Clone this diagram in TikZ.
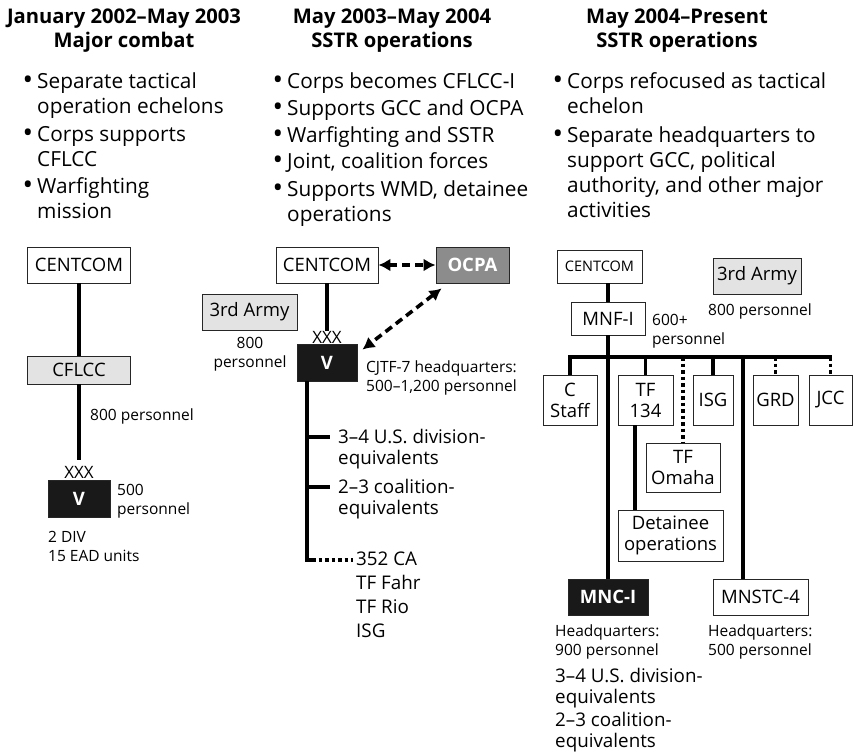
\documentclass[tikz,border=0pt]{standalone}
\usepackage{fontspec}
\usepackage{graphicx}
\setmainfont{Open Sans}
\usetikzlibrary{arrows.meta}

\newcommand\hdsize{\fontsize{20.2}{24}\selectfont\bfseries}
\newcommand\blsize{\fontsize{20.8}{25}\selectfont}
\newcommand\bxsize{\fontsize{18.5}{21}\selectfont}
\newcommand\unsize{\fontsize{18.8}{21}\selectfont}
\newcommand\smsize{\fontsize{15.5}{19}\selectfont}
\newcommand\dotmark{\llap{\raisebox{-1.8pt}{\scalebox{1.35}{•}}\hspace{4pt}}}

\begin{document}
\begin{tikzpicture}[x=1pt,y=-1pt,
  headtext/.style={font=\hdsize,align=center,anchor=base,inner sep=0pt},
  bullettext/.style={font=\blsize,align=left,anchor=base west,inner sep=0pt},
  smalltext/.style={font=\smsize,align=left,anchor=base west,inner sep=0pt},
  unittext/.style={font=\unsize,align=left,anchor=base west,inner sep=0pt},
  corpsmark/.style={font=\fontsize{17}{19}\selectfont,inner sep=0pt},
  box/.style={draw=black!85,line width=0.9pt,fill=white,inner sep=0pt,font=\bxsize,align=center},
  lightbox/.style={box,fill=black!11},
  darkbox/.style={box,fill=black!45,text=white,font=\bxsize\bfseries},
  blackbox/.style={box,fill=black!90,text=white,font=\bxsize\bfseries},
  link/.style={line width=3.6pt},
  dotlink/.style={line width=3.6pt,dash pattern=on 3.5pt off 3pt},
  dasharrow/.style={line width=3.6pt,dash pattern=on 8pt off 5pt,{Latex[length=12pt,width=13pt]}-{Latex[length=12pt,width=13pt]}}]
\path[use as bounding box] (0,0) rectangle (853,752);

\node[headtext] (head1) at (124,48) {January 2002–May 2003\\Major combat};
\node[headtext] (head2) at (392,48) {May 2003–May 2004\\SSTR operations};
\node[headtext] (head3) at (677,48) {May 2004–Present\\SSTR operations};

\node[bullettext] (b11) at (37,113) {\dotmark Separate tactical\\operation echelons};
\node[bullettext] (b12) at (37,166) {\dotmark Corps supports\\CFLCC};
\node[bullettext] (b13) at (37,218) {\dotmark Warfighting\\mission};

\node[bullettext] (b21) at (287,88) {\dotmark Corps becomes CFLCC-I};
\node[bullettext] (b22) at (287,115) {\dotmark Supports GCC and OCPA};
\node[bullettext] (b23) at (287,142) {\dotmark Warfighting and SSTR};
\node[bullettext] (b24) at (287,168) {\dotmark Joint, coalition forces};
\node[bullettext] (b25) at (287,221) {\dotmark Supports WMD, detainee\\operations};

\node[bullettext] (b31) at (567,113) {\dotmark Corps refocused as tactical\\echelon};
\node[bullettext] (b32) at (567,217) {\dotmark Separate headquarters to\\support GCC, political\\authority, and other major\\activities};

\node[box,minimum width=103pt,minimum height=36pt] (cent1) at (79,265) {CENTCOM};
\node[lightbox,minimum width=103pt,minimum height=28pt] (cflcc) at (79,370) {CFLCC};
\node[smalltext] (cflccp) at (90,420) {800 personnel};
\coordinate (v1top) at (79,460);
\node[corpsmark] (xxx1) at (79,472) {XXX};
\node[blackbox,minimum width=62pt,minimum height=37pt] (v1) at (79,498.5) {V};
\node[smalltext] (v1p) at (117,514) {500\\personnel};
\node[smalltext] (v1units) at (48,561) {2 DIV\\15 EAD units};
\path[draw,link] (cent1) -- (cflcc);
\path[draw,link] (cflcc) -- (v1top);

\node[box,minimum width=102pt,minimum height=36pt] (cent2) at (327,265) {CENTCOM};
\node[darkbox,minimum width=73pt,minimum height=36pt] (ocpa) at (472.5,265) {OCPA};
\node[lightbox,minimum width=95pt,minimum height=36pt] (army2) at (249.5,312) {3rd Army};
\node[smalltext,align=center,anchor=base] (army2p) at (250,367) {800\\personnel};
\coordinate (v2top) at (327,331);
\node[corpsmark] (xxx2) at (327,337) {XXX};
\node[blackbox,minimum width=60pt,minimum height=37pt] (v2) at (327,362.5) {V};
\node[smalltext] (cjtf) at (366,391) {CJTF-7 headquarters:\\500–1,200 personnel};
\coordinate (v2foot) at (307,560);
\coordinate (br1) at (330,437);
\coordinate (br2) at (330,487);
\node[unittext] (div2) at (338,464) {3–4 U.S. division-\\equivalents};
\node[unittext] (coal2) at (338,514) {2–3 coalition-\\equivalents};
\node[unittext,font=\fontsize{18.8}{24}\selectfont] (misc2) at (356,637) {352 CA\\TF Fahr\\TF Rio\\ISG};
\path[draw,link] (cent2) -- (v2top);
\path[draw,link] (v2.south -| v2foot) -- (v2foot) -- ++(5,0);
\path[draw,dotlink] ([xshift=5pt]v2foot) -- ([xshift=-3pt]v2foot -| misc2.west);
\path[draw,link] (br1 -| v2foot) -- (br1);
\path[draw,link] (br2 -| v2foot) -- (br2);
\path[draw,dasharrow] (cent2) -- (ocpa);
\path[draw,dasharrow] ([shift={(6pt,-5pt)}]ocpa.south west) -- ([shift={(5pt,-6pt)}]v2.north east);

\node[box,font=\fontsize{14.5}{18}\selectfont,minimum width=85pt,minimum height=33pt] (cent3) at (599.5,266.5) {CENTCOM};
\node[lightbox,minimum width=88pt,minimum height=36pt] (army3) at (757,276) {3rd Army};
\node[smalltext,anchor=base] (army3p) at (760,315) {800 personnel};
\node[box,minimum width=74pt,minimum height=33pt] (mnf) at (608,318.5) {MNF-I};
\node[smalltext] (mnfp) at (652,344) {600+\\personnel};
\coordinate (bus) at (608,357);
\node[box,minimum width=54pt,minimum height=50pt] (cstaff) at (570,400) {C\\Staff};
\node[box,minimum width=55pt,minimum height=50pt] (tf134) at (645.5,400) {TF\\134};
\node[box,minimum width=40pt,minimum height=50pt] (isg) at (713,400) {ISG};
\node[box,minimum width=45pt,minimum height=50pt] (grd) at (775.5,400) {GRD};
\node[box,minimum width=43pt,minimum height=50pt] (jcc) at (830.5,400) {JCC};
\node[box,minimum width=74pt,minimum height=49pt] (omaha) at (683,467.5) {TF\\Omaha};
\node[box,minimum width=105pt,minimum height=51pt] (det) at (670.5,535.5) {Detainee\\operations};
\node[blackbox,minimum width=80pt,minimum height=36pt] (mnci) at (608,597) {MNC-I};
\node[box,minimum width=95pt,minimum height=36pt] (mnstc) at (760.5,597) {MNSTC-4};
\node[smalltext] (mncip) at (555,655) {Headquarters:\\900 personnel};
\node[smalltext] (mnstcp) at (708,655) {Headquarters:\\500 personnel};
\node[unittext] (div3) at (555,703) {3–4 U.S. division-\\equivalents};
\node[unittext] (coal3) at (555,747) {2–3 coalition-\\equivalents};
\coordinate (detx) at (635,0);
\coordinate (mnstcx) at (743,0);
\path[draw,link] (cent3.south -| mnf) -- (mnf);
\path[draw,link] (mnf) -- (mnci);
\path[draw,link,line cap=rect] (cstaff.north |- bus) -- (jcc.north |- bus);
\path[draw,link] (cstaff.north |- bus) -- (cstaff);
\path[draw,link] (tf134.north |- bus) -- (tf134);
\path[draw,link] (isg.north |- bus) -- (isg);
\path[draw,dotlink] (grd.north |- bus) -- (grd);
\path[draw,dotlink] (jcc.north |- bus) -- (jcc);
\path[draw,dotlink] (omaha.north |- bus) -- (omaha);
\path[draw,link] (tf134.south -| detx) -- (det.north -| detx);
\path[draw,link] (bus -| mnstcx) -- (mnstc.north -| mnstcx);
\end{tikzpicture}
\end{document}
